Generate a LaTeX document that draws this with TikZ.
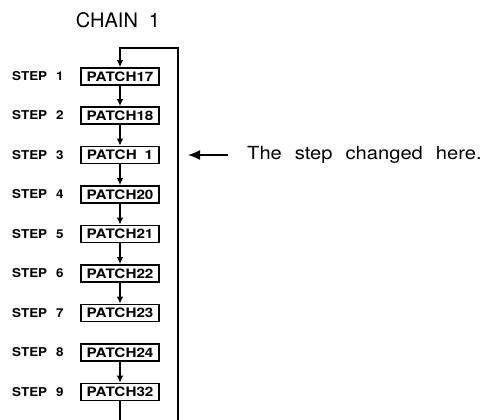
\documentclass[tikz,border=0pt]{standalone}
\usepackage{fontspec}
\setmainfont{TeX Gyre Heros}
\newfontfamily\patchfont[FakeStretch=1.17]{TeX Gyre Heros}
\newfontfamily\stepfont[FakeStretch=1.1]{TeX Gyre Heros}
\newfontfamily\notefont[FakeStretch=1.12]{TeX Gyre Heros}
\usetikzlibrary{arrows.meta}
\tikzset{
  patch/.style={draw,line width=1.7pt,minimum width=78pt,minimum height=17pt,inner sep=0pt,
    font={\patchfont\bfseries\fontsize{13}{15}\selectfont\spaceskip=8pt\relax}},
  steplab/.style={anchor=west,inner sep=0pt,font={\stepfont\bfseries\fontsize{12.2}{14}\selectfont\spaceskip=9pt\relax}},
  flow/.style={line width=1.2pt,-{Latex[length=7pt,width=6.5pt]}},
}
\begin{document}
\begin{tikzpicture}[x=1pt,y=1pt]
\useasboundingbox (0,0) rectangle (491,-420);
\node[font={\fontsize{20}{22}\selectfont\spaceskip=11pt\relax}] (title) at (118,-20.5) {CHAIN 1};
% the patches of the chain
\node[patch] (p1) at (120,-76.5) {PATCH17};
\node[patch] (p2) at (120,-115.5) {PATCH18};
\node[patch] (p3) at (120,-155) {PATCH 1};
\node[patch] (p4) at (120,-194.5) {PATCH20};
\node[patch] (p5) at (120,-234) {PATCH21};
\node[patch] (p6) at (120,-273.5) {PATCH22};
\node[patch] (p7) at (120,-313) {PATCH23};
\node[patch] (p8) at (120,-352.5) {PATCH24};
\node[patch] (p9) at (120,-392) {PATCH32};
\node[steplab] (s1) at (12,-76.5) {STEP 1};
\node[steplab] (s2) at (12,-115.5) {STEP 2};
\node[steplab] (s3) at (12,-155) {STEP 3};
\node[steplab] (s4) at (12,-194.5) {STEP 4};
\node[steplab] (s5) at (12,-234) {STEP 5};
\node[steplab] (s6) at (12,-273.5) {STEP 6};
\node[steplab] (s7) at (12,-313) {STEP 7};
\node[steplab] (s8) at (12,-352.5) {STEP 8};
\node[steplab] (s9) at (12,-392) {STEP 9};
\draw[flow] (p1)--(p2);
\draw[flow] (p2)--(p3);
\draw[flow] (p3)--(p4);
\draw[flow] (p4)--(p5);
\draw[flow] (p5)--(p6);
\draw[flow] (p6)--(p7);
\draw[flow] (p8)--(p9);
% loop back to the first step
\coordinate (outbot) at (120,-420);
\coordinate (loopbot) at (178,-420);
\coordinate (looptop) at (178,-48);
\coordinate (loopin) at (120,-48);
\draw[line width=1.2pt] (p9)--(outbot);
\draw[flow] (loopbot)--(looptop)--(loopin)--(p1);
% note
\node[anchor=west,inner sep=0pt,font={\notefont\fontsize{18}{20}\selectfont\spaceskip=13pt\relax}] (msg) at (247,-155) {The step changed here.};
\coordinate (tip) at (188,-155);
\draw[line width=1.5pt,-{Latex[length=12pt,width=10pt]},shorten <=19pt] (msg.west)--(tip);
\end{tikzpicture}
\end{document}
